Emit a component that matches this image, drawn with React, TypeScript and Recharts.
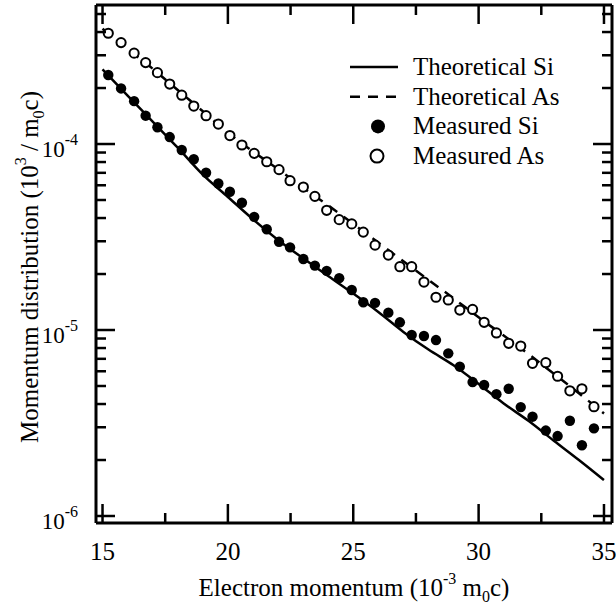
import React from 'react';
import { ComposedChart, Line, Scatter, XAxis, YAxis, Legend } from 'recharts';

const FONT_STYLE = { fontFamily: "Liberation Serif, Tinos, Times New Roman, DejaVu Serif, serif" };

// Theoretical curves (x in 10^-3 m0c, y in 10^3/m0c)
const theoryX = [15, 16, 17, 18, 19, 20, 21, 22, 23, 24, 25, 26, 27, 28, 29, 30, 31, 32, 33, 34, 35];
const siTheoryY = [2.52e-4, 1.82e-4, 1.32e-4, 9.55e-5, 6.84e-5, 5.19e-5, 3.94e-5, 3.05e-5, 2.43e-5, 1.95e-5, 1.57e-5, 1.25e-5, 9.77e-6, 7.85e-6, 6.46e-6, 5.13e-6, 4.03e-6, 3.24e-6, 2.54e-6, 2.0e-6, 1.56e-6];
const asTheoryY = [4.17e-4, 3.24e-4, 2.54e-4, 1.95e-4, 1.5e-4, 1.15e-4, 9.12e-5, 7.33e-5, 5.82e-5, 4.68e-5, 3.72e-5, 2.95e-5, 2.34e-5, 1.86e-5, 1.48e-5, 1.17e-5, 9.33e-6, 7.41e-6, 5.82e-6, 4.57e-6, 3.56e-6];

// Measured points
const measuredX = [15.23, 15.74, 16.26, 16.72, 17.19, 17.68, 18.16, 18.64, 19.13, 19.62, 20.08, 20.56, 21.05, 21.55, 22.04, 22.48, 23.01, 23.47, 23.94, 24.44, 24.94, 25.4, 25.87, 26.4, 26.86, 27.33, 27.82, 28.3, 28.79, 29.25, 29.76, 30.22, 30.71, 31.2, 31.68, 32.15, 32.68, 33.15, 33.64, 34.12, 34.6];
const siMeasuredY = [2.35e-4, 1.99e-4, 1.7e-4, 1.42e-4, 1.23e-4, 1.09e-4, 9.28e-5, 8.28e-5, 7.01e-5, 6.13e-5, 5.54e-5, 4.83e-5, 4.06e-5, 3.48e-5, 2.98e-5, 2.78e-5, 2.41e-5, 2.22e-5, 2.08e-5, 1.9e-5, 1.64e-5, 1.41e-5, 1.4e-5, 1.24e-5, 1.1e-5, 9.4e-6, 9.29e-6, 8.83e-6, 7.49e-6, 6.35e-6, 5.25e-6, 5.06e-6, 4.52e-6, 4.83e-6, 3.85e-6, 3.42e-6, 2.88e-6, 2.69e-6, 3.25e-6, 2.4e-6, 2.96e-6];
const asMeasuredY = [3.94e-4, 3.51e-4, 3.08e-4, 2.74e-4, 2.42e-4, 2.1e-4, 1.83e-4, 1.6e-4, 1.42e-4, 1.28e-4, 1.11e-4, 9.88e-5, 8.91e-5, 8.03e-5, 7.28e-5, 6.35e-5, 5.87e-5, 5.23e-5, 4.4e-5, 3.92e-5, 3.72e-5, 3.36e-5, 2.86e-5, 2.53e-5, 2.19e-5, 2.19e-5, 1.81e-5, 1.5e-5, 1.45e-5, 1.28e-5, 1.29e-5, 1.1e-5, 9.64e-6, 8.48e-6, 8.2e-6, 6.62e-6, 6.67e-6, 5.64e-6, 4.71e-6, 4.83e-6, 3.87e-6];

// Axes
const xDomain = [14.74, 35.32];
const yDomain = [9.17e-7, 5.59e-4];
const xMajorTicks = [15, 20, 25, 30, 35];
const xMinorTicks = [17.5, 22.5, 27.5, 32.5];
const yExponents = [-7, -6, -5, -4];
const yMantissas = [1, 2, 3, 4, 5, 6, 7, 8, 9];

const seriesNames = ['Theoretical Si', 'Theoretical As', 'Measured Si', 'Measured As'];
const xTitle = 'Electron momentum';
const yTitle = 'Momentum distribution';

const siTheory = theoryX.map((x, i) => ({ x, y: siTheoryY[i] }));
const asTheory = theoryX.map((x, i) => ({ x, y: asTheoryY[i] }));
const siMeasured = measuredX.map((x, i) => ({ x, y: siMeasuredY[i] }));
const asMeasured = measuredX.map((x, i) => ({ x, y: asMeasuredY[i] }));

const xTicks = [...xMajorTicks, ...xMinorTicks].sort((a, b) => a - b);
const yTicks: number[] = [];
yExponents.forEach((e) => yMantissas.forEach((m) => {
  const v = m * Math.pow(10, e);
  if (v >= yDomain[0] && v <= yDomain[1]) yTicks.push(v);
}));

const isMajorX = (v: number) => xMajorTicks.some((t) => Math.abs(t - v) < 1e-6);
const isMajorY = (v: number) => {
  const l = Math.log10(v);
  return Math.abs(l - Math.round(l)) < 1e-6;
};

const TICK_W = 2.5;
const MAJOR = 19;
const MINOR = 10;

const BottomTick = (props: any) => {
  const { x, y, payload } = props;
  const major = isMajorX(payload.value);
  return (
    <g>
      <line x1={x} x2={x} y1={y} y2={y - (major ? MAJOR : MINOR)} stroke="#000" strokeWidth={TICK_W} />
      {major && (
        <text x={x} y={y + 37} textAnchor="middle" fontSize={25} style={FONT_STYLE} fill="#000">
          {payload.value}
        </text>
      )}
    </g>
  );
};

const TopTick = (props: any) => {
  const { x, y, payload } = props;
  const major = isMajorX(payload.value);
  return <line x1={x} x2={x} y1={y} y2={y + (major ? MAJOR : MINOR)} stroke="#000" strokeWidth={TICK_W} />;
};

const LeftTick = (props: any) => {
  const { x, y, payload } = props;
  const major = isMajorY(payload.value);
  const exp = Math.round(Math.log10(payload.value));
  return (
    <g>
      <line x1={x} x2={x + (major ? MAJOR : MINOR)} y1={y} y2={y} stroke="#000" strokeWidth={TICK_W} />
      {major && (
        <text x={x - 18} y={y + 13} textAnchor="end" fontSize={23} style={FONT_STYLE} fill="#000">
          10
          <tspan dy={-12} fontSize={16}>{String(exp)}</tspan>
        </text>
      )}
    </g>
  );
};

const RightTick = (props: any) => {
  const { x, y, payload } = props;
  const major = isMajorY(payload.value);
  return <line x1={x} x2={x - (major ? MAJOR : MINOR)} y1={y} y2={y} stroke="#000" strokeWidth={TICK_W} />;
};

const XTitle = (props: any) => {
  const vb = props.viewBox || { x: 96, y: 523, width: 516, height: 84 };
  const cx = vb.x + vb.width / 2;
  return (
    <text x={cx} y={vb.y + 73} textAnchor="middle" fontSize={25} style={FONT_STYLE} fill="#000">
      {xTitle} (10
      <tspan dy={-12} fontSize={16}>-3</tspan>
      <tspan dy={12}> m</tspan>
      <tspan dy={6} fontSize={16}>0</tspan>
      <tspan dy={-6}>c)</tspan>
    </text>
  );
};

const YTitle = (props: any) => {
  const vb = props.viewBox || { x: 0, y: 5, width: 96, height: 518 };
  const tx = vb.x + 38;
  const ty = vb.y + vb.height / 2 + 3;
  return (
    <text x={tx} y={ty} transform={`rotate(-90, ${tx}, ${ty})`} textAnchor="middle" fontSize={25} style={FONT_STYLE} fill="#000">
      {yTitle} (10
      <tspan dy={-12} fontSize={16}>3</tspan>
      <tspan dy={12}> / m</tspan>
      <tspan dy={6} fontSize={16}>0</tspan>
      <tspan dy={-6}>c)</tspan>
    </text>
  );
};

const FilledDot = (props: any) => <circle cx={props.cx} cy={props.cy} r={5.2} fill="#000" />;
const OpenDot = (props: any) => <circle cx={props.cx} cy={props.cy} r={4.6} fill="#fff" stroke="#000" strokeWidth={2} />;

const LegendContent = () => {
  const rowY = (i: number) => 17 + i * 29.7;
  return (
    <svg width={270} height={130} style={{ overflow: 'visible', display: 'block' }}>
      <line x1={10} x2={58} y1={rowY(0)} y2={rowY(0)} stroke="#000" strokeWidth={2.5} />
      <line x1={10} x2={58} y1={rowY(1)} y2={rowY(1)} stroke="#000" strokeWidth={2.5} strokeDasharray="10 8" />
      <circle cx={38} cy={rowY(2)} r={7} fill="#000" />
      <circle cx={37} cy={rowY(3)} r={6.5} fill="#fff" stroke="#000" strokeWidth={2} />
      {seriesNames.map((n, i) => (
        <text key={n} x={73} y={rowY(i) + 8} fontSize={25} style={FONT_STYLE} fill="#000">{n}</text>
      ))}
    </svg>
  );
};

export default function App() {
  return (
    <div style={{ position: 'absolute', left: 0, top: 0, background: '#fff' }}>
      <ComposedChart width={616} height={607} margin={{ top: 4, right: 3, bottom: 0, left: 0 }}>
        <XAxis
          dataKey="x"
          type="number"
          domain={xDomain}
          allowDataOverflow
          ticks={xTicks}
          interval={0}
          height={84}
          tickSize={0}
          tickMargin={0}
          tick={<BottomTick />}
          axisLine={{ stroke: '#000', strokeWidth: 3 }}
          label={{ content: (p: any) => <XTitle {...p} /> }}
        />
        <XAxis
          xAxisId="top"
          orientation="top"
          dataKey="x"
          type="number"
          domain={xDomain}
          allowDataOverflow
          ticks={xTicks}
          interval={0}
          height={1}
          tickSize={0}
          tickMargin={0}
          tick={<TopTick />}
          axisLine={{ stroke: '#000', strokeWidth: 3 }}
        />
        <YAxis
          type="number"
          scale="log"
          domain={yDomain}
          allowDataOverflow
          ticks={yTicks}
          interval={0}
          width={96}
          tickSize={0}
          tickMargin={0}
          tick={<LeftTick />}
          axisLine={{ stroke: '#000', strokeWidth: 3 }}
          label={{ content: (p: any) => <YTitle {...p} /> }}
        />
        <YAxis
          yAxisId="right"
          orientation="right"
          type="number"
          scale="log"
          domain={yDomain}
          allowDataOverflow
          ticks={yTicks}
          interval={0}
          width={1}
          tickSize={0}
          tickMargin={0}
          tick={<RightTick />}
          axisLine={{ stroke: '#000', strokeWidth: 3 }}
        />
        <Line data={siTheory} dataKey="y" name={seriesNames[0]} type="monotone" stroke="#000" strokeWidth={2.5} dot={false} activeDot={false} isAnimationActive={false} />
        <Line data={asTheory} dataKey="y" name={seriesNames[1]} xAxisId="top" yAxisId="right" type="monotone" stroke="#000" strokeWidth={2.5} strokeDasharray="10 8" dot={false} activeDot={false} isAnimationActive={false} />
        <Scatter data={siMeasured} dataKey="y" name={seriesNames[2]} shape={<FilledDot />} isAnimationActive={false} />
        <Scatter data={asMeasured} dataKey="y" name={seriesNames[3]} xAxisId="top" yAxisId="right" shape={<OpenDot />} isAnimationActive={false} />
        <Legend
          layout="vertical"
          align="center"
          verticalAlign="middle"
          content={<LegendContent />}
          wrapperStyle={{ position: 'absolute', left: 340, top: 50, width: 270, height: 130 }}
        />
      </ComposedChart>
    </div>
  );
}
